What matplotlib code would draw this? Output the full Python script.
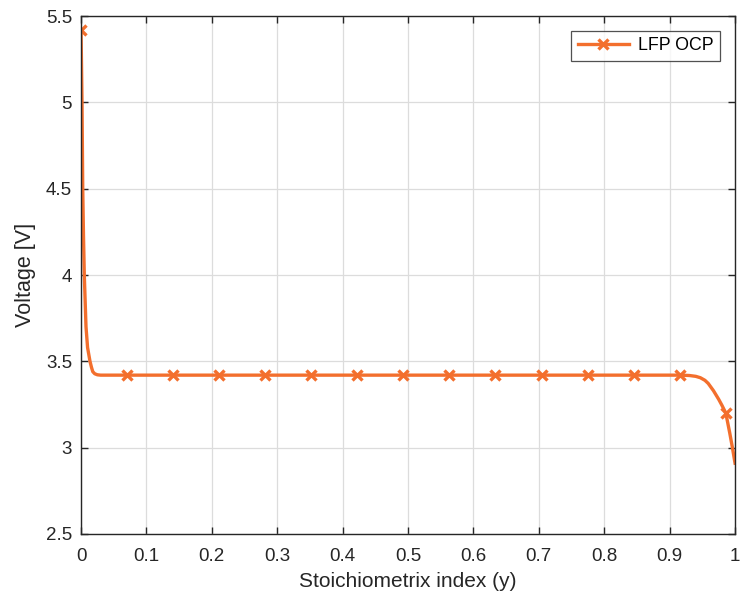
import matplotlib
matplotlib.use("Agg")
import matplotlib.pyplot as plt
from matplotlib.ticker import FuncFormatter

# Data
y_stoich = [0.0, 0.0008, 0.0015, 0.0026, 0.0038, 0.005, 0.0076, 0.010, 0.0137,
            0.016, 0.018, 0.021, 0.025, 0.030, 0.0704, 0.1408, 0.2112, 0.2816,
            0.3521, 0.4225, 0.4929, 0.5633, 0.6337, 0.7042, 0.7746, 0.8450,
            0.9155, 0.930, 0.940, 0.947, 0.954, 0.959, 0.963, 0.967, 0.971,
            0.975, 0.980, 0.9859, 0.992, 0.996, 1.0]
voltage = [5.42, 5.20, 5.00, 4.50, 4.22, 4.00, 3.70, 3.58, 3.50,
           3.465, 3.44, 3.428, 3.422, 3.42, 3.42, 3.42, 3.42, 3.42,
           3.42, 3.42, 3.42, 3.42, 3.42, 3.42, 3.42, 3.42,
           3.42, 3.418, 3.413, 3.405, 3.39, 3.372, 3.351, 3.33, 3.305,
           3.28, 3.245, 3.20, 3.083, 3.00, 2.91]
marker_idx = [0, 14, 15, 16, 17, 18, 19, 20, 21, 22, 23, 24, 25, 26, 37]

xticks = [0, 0.1, 0.2, 0.3, 0.4, 0.5, 0.6, 0.7, 0.8, 0.9, 1]
yticks = [2.5, 3, 3.5, 4, 4.5, 5, 5.5]

plt.rcParams['font.family'] = ['Liberation Sans', 'DejaVu Sans']

fig = plt.figure(figsize=(7.4, 6.04), dpi=100)
ax = fig.add_axes([0.1095, 0.1159, 0.8838, 0.8576])

color = '#F36F2D'
ax.plot(y_stoich, voltage, color=color, linewidth=2.4, marker='x',
        markersize=7, markeredgewidth=2.4, markevery=marker_idx,
        label='LFP OCP')

ax.set_xlim(0, 1)
ax.set_ylim(2.5, 5.5)
ax.set_xticks(xticks)
ax.set_yticks(yticks)
fmt = FuncFormatter(lambda v, p: '%g' % v)
ax.xaxis.set_major_formatter(fmt)
ax.yaxis.set_major_formatter(fmt)

ax.grid(True, color='#dcdcdc', linewidth=0.9)
ax.set_axisbelow(True)
ax.tick_params(direction='in', top=True, right=True, length=5,
               labelsize=13.5, colors='#262626', width=1)
ax.tick_params(axis='x', pad=10)
ax.tick_params(axis='y', pad=6.5)
for s in ax.spines.values():
    s.set_color('#262626')
    s.set_linewidth(1)

ax.set_xlabel('Stoichiometrix index (y)', fontsize=15, color='#262626', labelpad=5)
ax.set_ylabel('Voltage [V]', fontsize=15.5, color='#262626', labelpad=7)

leg = ax.legend(loc='upper right', fontsize=12.8, frameon=True, fancybox=False,
                edgecolor='#262626', borderaxespad=0.85, handlelength=2.9,
                handletextpad=0.5, borderpad=0.35)
leg.get_frame().set_linewidth(0.9)

fig.savefig('out.png', dpi=100)
